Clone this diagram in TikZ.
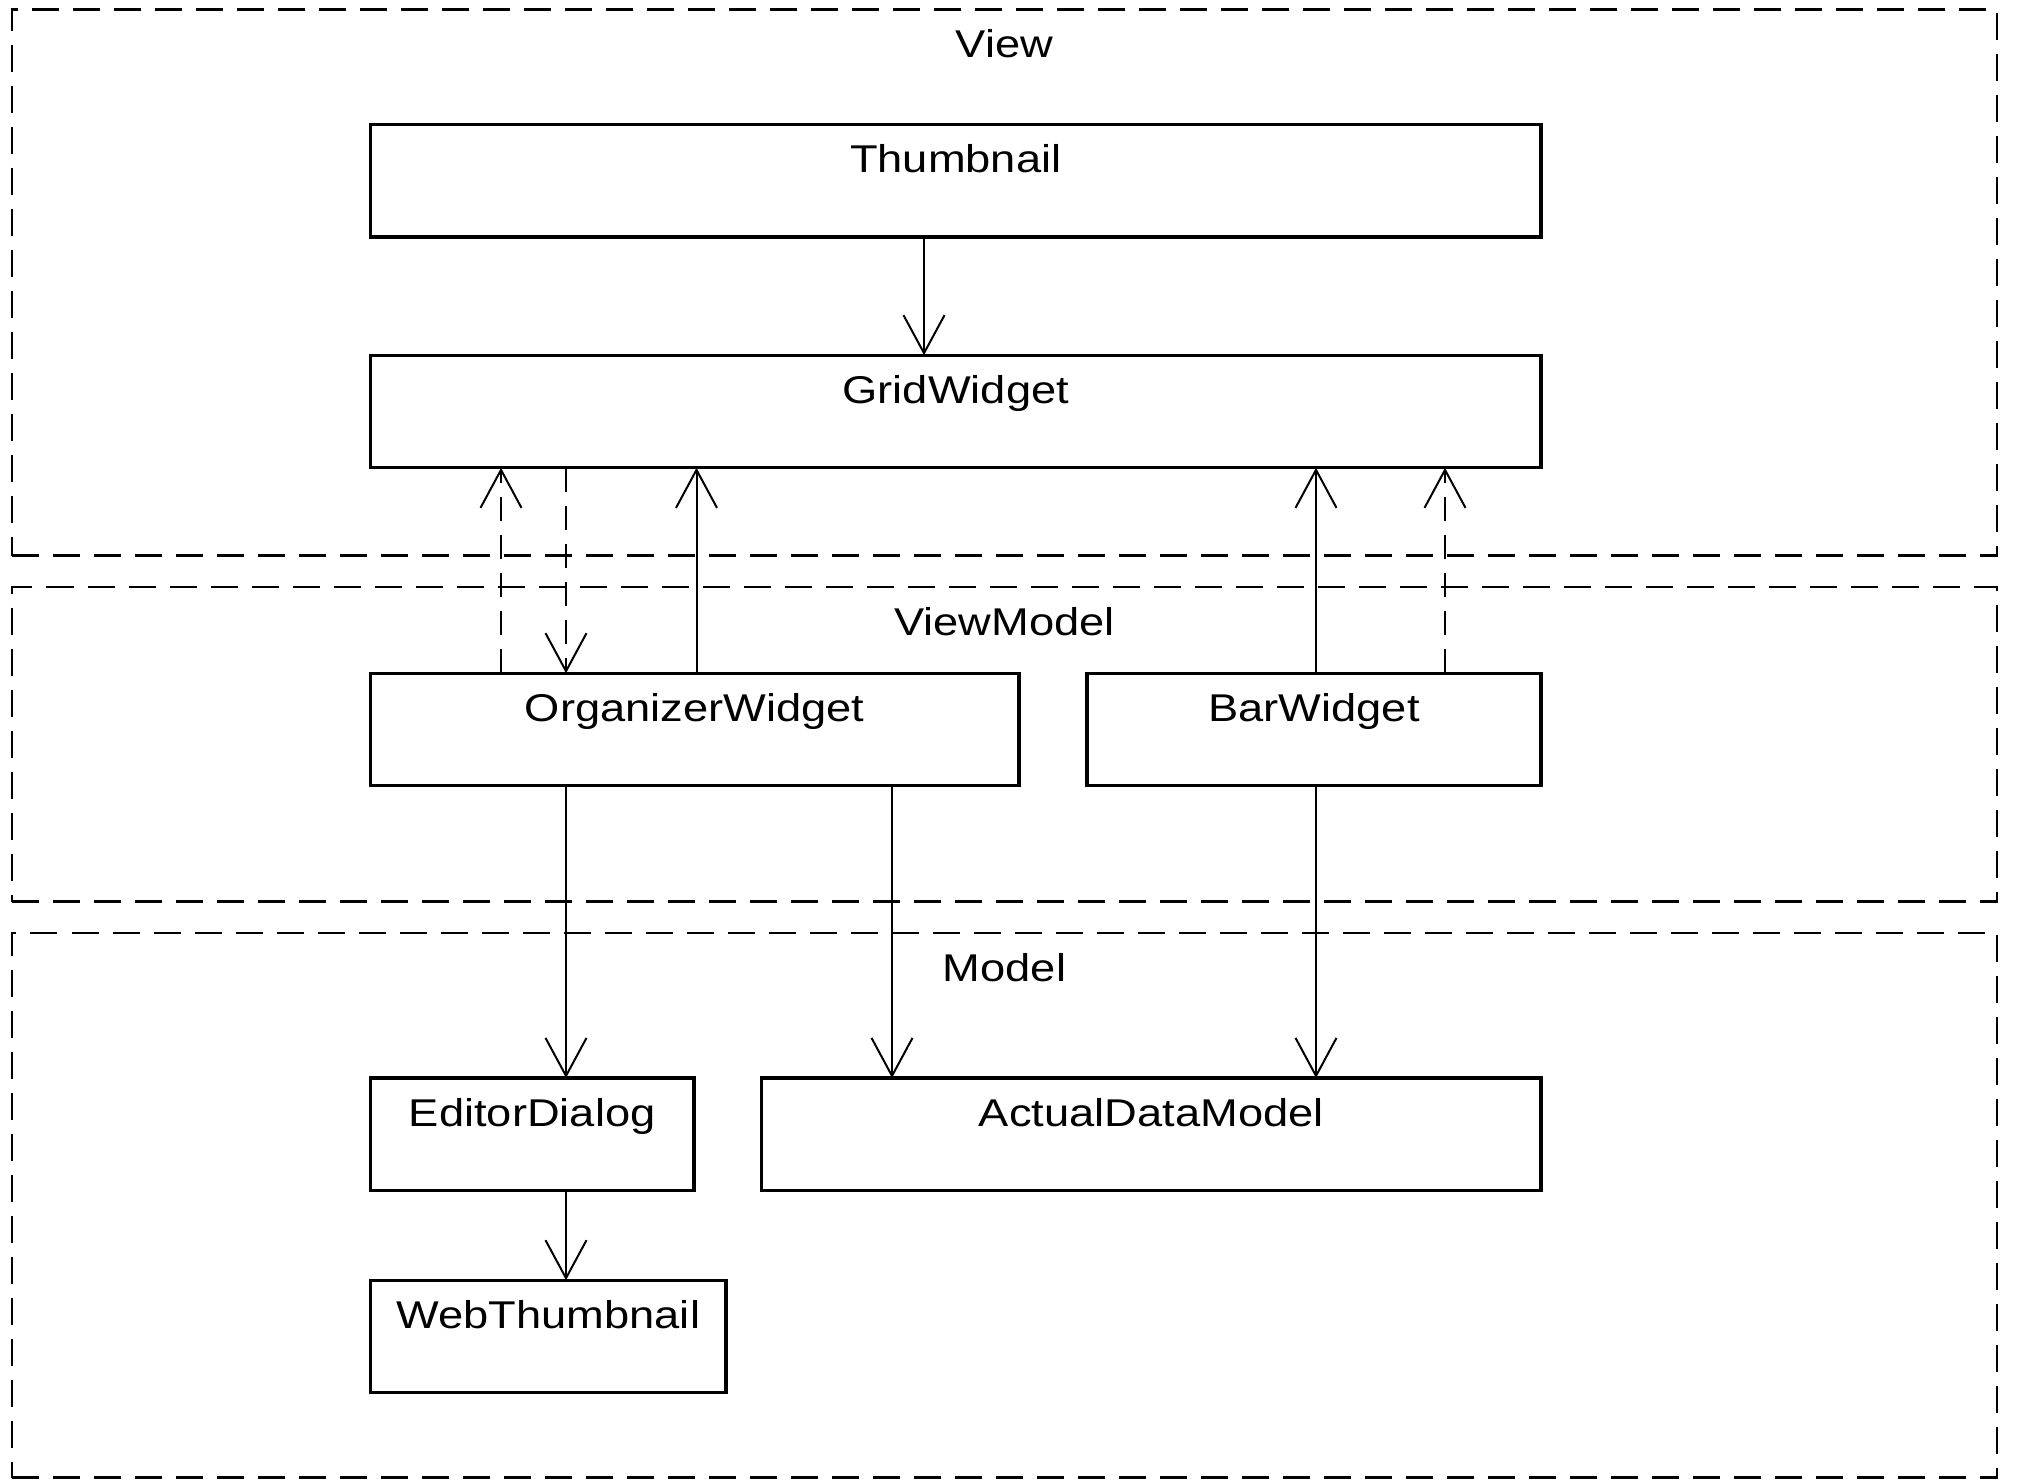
\documentclass[tikz,border=0pt]{standalone}
\usepackage{fontspec}
\setmainfont{Liberation Sans}[FakeStretch=1.17]
\usetikzlibrary{arrows.meta}
\begin{document}
\begin{tikzpicture}[x=0.5pt,y=-0.5pt,
  every node/.style={font=\fontsize{19.35pt}{23pt}\selectfont},
  frame/.style={draw,line width=1.1pt,dash pattern=on 13.5pt off 7pt,inner sep=0pt,outer sep=0pt,minimum width=992.5pt},
  box/.style={draw,line width=1.6pt,inner sep=0pt,outer sep=0pt,minimum height=56.25pt},
  lbl/.style={anchor=base,yshift=-24pt,inner sep=0pt,outer sep=0pt},
  conn/.style={line width=1pt,-{Straight Barb[length=19pt,width=20.5pt,line width=1pt]}},
  dconn/.style={conn,dash pattern=on 12pt off 7pt}]
\useasboundingbox (0,0) rectangle (2017,1479);
% frames
\node[frame,minimum height=273pt,label={[lbl]north:View}] (view) at (1004.5,282.5) {};
\node[frame,minimum height=157.25pt,label={[lbl]north:ViewModel}] (vm) at (1004.5,744.25) {};
\node[frame,minimum height=272.25pt,label={[lbl]north:Model}] (model) at (1004.5,1205.25) {};
% boxes
\node[box,minimum width=585.25pt,label={[lbl]north:Thumbnail}] (thumb) at (955.75,180.8) {};
\node[box,minimum width=585.25pt,label={[lbl]north:GridWidget}] (grid) at (955.75,411.5) {};
\node[box,minimum width=324.25pt,label={[lbl]north:OrganizerWidget}] (org) at (694.75,729.5) {};
\node[box,minimum width=227pt,label={[lbl]north:BarWidget}] (bar) at (1314,729.5) {};
\node[box,minimum width=161.75pt,label={[lbl]north:EditorDialog}] (editor) at (532.25,1134.25) {};
\node[box,minimum width=389.75pt,label={[lbl]north:ActualDataModel}] (adm) at (1151.25,1134.25) {};
\node[box,minimum width=177.75pt,label={[lbl]north:WebThumbnail}] (web) at (548.25,1336.5) {};
% connectors
\draw[conn] (924,0 |- thumb.south) -- (924,0 |- grid.north);
\draw[dconn] (501,0 |- org.north) -- (501,0 |- grid.south);
\draw[dconn] (566,0 |- grid.south) -- (566,0 |- org.north);
\draw[conn] (696.5,0 |- org.north) -- (696.5,0 |- grid.south);
\draw[conn] (1316,0 |- bar.north) -- (1316,0 |- grid.south);
\draw[dconn] (1445,0 |- bar.north) -- (1445,0 |- grid.south);
\draw[conn] (566,0 |- org.south) -- (566,0 |- editor.north);
\draw[conn] (892,0 |- org.south) -- (892,0 |- adm.north);
\draw[conn] (1316,0 |- bar.south) -- (1316,0 |- adm.north);
\draw[conn] (566,0 |- editor.south) -- (566,0 |- web.north);
\end{tikzpicture}
\end{document}
